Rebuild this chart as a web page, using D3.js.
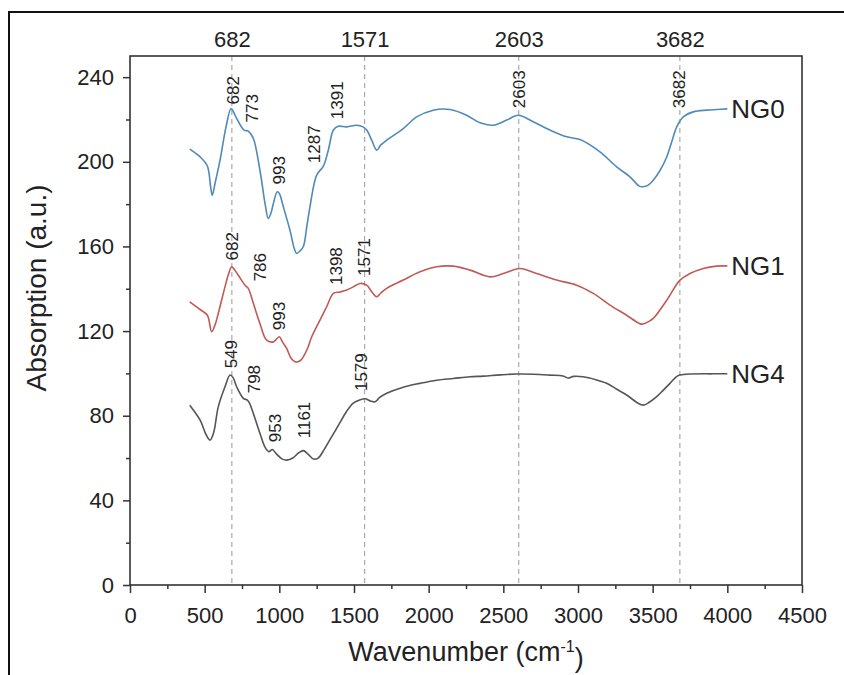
<!DOCTYPE html>
<html lang="en">
<head>
<meta charset="utf-8">
<script src="https://cdn.jsdelivr.net/npm/d3@7"></script>
<style>
  body { margin: 0; background: #fff; }
  text { font-family: "Liberation Sans", Arial, sans-serif; fill: #222; }
  .tick line { stroke: #333; stroke-width: 1.5px; }
  .tick text { font-size: 22px; }
  .guide { stroke: #aaa; stroke-width: 1.2px; stroke-dasharray: 5,4; }
  .peak { font-size: 17px; }
</style>
</head>
<body>
<div id="chart"></div>
<script>
// spectra: [wavenumber, absorption]
var ng0 = [[400,206],[470,202.3],[518,198],[540,188],[551,184.2],[570,190],[603,200.8],[643,216.5],[676,225.2],[690,224],[714,220.5],[763,215],[792,214.5],[826,211],[870,196],[905,180],[926,173.2],[945,176],[960,180.3],[986,185.8],[1000,185],[1027,178.7],[1071,167.7],[1100,159],[1116,156.7],[1140,158],[1161,160],[1185,170],[1205,178.7],[1250,193.7],[1295,198],[1328,205.5],[1362,215],[1395,216.8],[1451,216.5],[1518,217.3],[1560,216.5],[1585,215],[1620,210],[1652,205.5],[1680,208],[1719,210.2],[1830,215.7],[1920,221.2],[2031,224.4],[2143,224.7],[2254,222],[2344,218.4],[2433,217.3],[2522,219.7],[2600,222],[2700,218.9],[2812,215],[2924,211.8],[3013,210.5],[3147,204.7],[3259,197.6],[3348,192.9],[3410,188.5],[3437,188.2],[3470,189],[3504,191.3],[3550,196],[3594,202.3],[3630,210],[3661,216.5],[3705,221.2],[3772,223.6],[3861,224.4],[3928,224.7],[4000,225]];

var ng1 = [[400,133.8],[469,130.2],[518,127.5],[547,119.7],[570,123],[591,128.3],[636,140.9],[660,147],[681,150.4],[700,149],[725,146.4],[770,141.7],[792,140.2],[826,133.1],[870,123.6],[915,115.7],[960,114.9],[1000,117.3],[1020,115],[1049,111.8],[1080,107],[1105,105.5],[1140,106],[1161,107.9],[1190,112],[1217,117.3],[1272,125.2],[1317,131.5],[1362,137.8],[1406,138.5],[1451,139.4],[1495,140.9],[1540,142.5],[1585,141.7],[1620,138.5],[1652,136.2],[1680,138],[1719,140.2],[1830,144.1],[1942,148],[2054,150.4],[2165,150.7],[2277,148.8],[2411,145.6],[2500,147.2],[2611,149.6],[2723,147.2],[2857,144.1],[2991,141.7],[3102,137.8],[3214,132.3],[3326,127.5],[3400,124],[3426,123.3],[3460,124],[3504,126],[3594,134.6],[3683,144.1],[3750,147.2],[3839,149.6],[3928,150.7],[4000,150.8]];

var ng4 = [[400,85],[469,78],[510,71],[536,68.5],[560,72],[591,84.2],[636,93.7],[670,99.2],[690,98],[714,93.7],[759,88.2],[786,87.4],[800,86],[826,81.1],[870,71.7],[905,65],[930,63],[953,64],[980,62],[1020,59.5],[1050,59],[1090,60],[1130,62.5],[1161,63.5],[1190,62],[1230,59.5],[1260,60],[1300,64],[1350,70],[1400,76],[1450,82],[1495,86],[1540,87.5],[1574,88],[1610,87],[1641,86.6],[1670,88.5],[1719,90.6],[1830,93.5],[1942,95.3],[2054,96.8],[2165,97.6],[2277,98.4],[2366,98.7],[2480,99.3],[2589,99.7],[2700,99.6],[2812,99.2],[2900,98.8],[2935,97.8],[2970,98.6],[3035,98.4],[3120,97],[3192,95.3],[3260,92.5],[3326,89.8],[3400,86],[3437,85],[3480,86.5],[3527,89],[3570,92],[3616,95.3],[3660,98.5],[3683,99.2],[3750,99.7],[3900,99.8],[4000,99.8]];

var seriesNames = ["NG0", "NG1", "NG4"];
var seriesColors = ["#4f8ab8", "#c05a55", "#555555"];

// dashed guide positions, also the top tick labels
var guideTicks = [682, 1571, 2603, 3682];

// peak labels: text, and where the label centre sits (wavenumber, absorption)
var peaks0 = [["682",688,233.8],["773",817,225.3],["993",998,196],["1287",1229,208.3],["1391",1386,229.1],["2603",2605,234.3],["3682",3676,234.3]];
var peaks1 = [["682",683,160.1],["786",870,150.2],["993",998,127.1],["1398",1379,150.7],["1571",1567,155]];
var peaks4 = [["549",676,109.1],["798",827,97.3],["953",971,74.2],["1161",1165,78],["1579",1547,100.6]];

var xTicks = d3.range(0, 4501, 500);
var xMinor = d3.range(250, 4500, 500);
var yTicks = d3.range(0, 241, 40);
var yMinor = d3.range(20, 240, 40);

var W = 844, H = 675;
var pL = 130, pR = 802, pT = 56, pB = 585;

var svg = d3.select("#chart").append("svg")
    .attr("width", W).attr("height", H);

// outer figure border (runs off the right and bottom)
svg.append("rect")
    .attr("x", 9).attr("y", 12).attr("width", 900).attr("height", 700)
    .attr("fill", "none").attr("stroke", "#111").attr("stroke-width", 2);

var x = d3.scaleLinear().domain([0, 4500]).range([pL, pR]);
var y = d3.scaleLinear().domain([0, 250]).range([pB, pT]);

// guides
svg.selectAll(".guide").data(guideTicks).enter().append("line")
    .attr("class", "guide")
    .attr("x1", function(d){ return x(d); }).attr("x2", function(d){ return x(d); })
    .attr("y1", pT).attr("y2", pB);

// minor ticks
svg.append("g").attr("transform", "translate(0," + pB + ")")
    .call(d3.axisBottom(x).tickValues(xMinor).tickSize(4).tickFormat(""))
    .call(function(g){ g.select(".domain").remove(); });
svg.append("g").attr("transform", "translate(" + pL + ",0)")
    .call(d3.axisLeft(y).tickValues(yMinor).tickSize(4).tickFormat(""))
    .call(function(g){ g.select(".domain").remove(); });

// major ticks
svg.append("g").attr("transform", "translate(0," + pB + ")")
    .call(d3.axisBottom(x).tickValues(xTicks).tickSize(8).tickPadding(14).tickFormat(d3.format("d")))
    .call(function(g){ g.select(".domain").remove(); });
svg.append("g").attr("transform", "translate(" + pL + ",0)")
    .call(d3.axisLeft(y).tickValues(yTicks).tickSize(7).tickPadding(9).tickFormat(d3.format("d")))
    .call(function(g){ g.select(".domain").remove(); });

// top labels
svg.append("g").attr("transform", "translate(0," + pT + ")")
    .call(d3.axisTop(x).tickValues(guideTicks).tickSize(0).tickPadding(9).tickFormat(d3.format("d")))
    .call(function(g){ g.select(".domain").remove(); });

// frame
svg.append("rect")
    .attr("x", pL).attr("y", pT).attr("width", pR - pL).attr("height", pB - pT)
    .attr("fill", "none").attr("stroke", "#333").attr("stroke-width", 1.6);

var line = d3.line()
    .x(function(d){ return x(d[0]); })
    .y(function(d){ return y(d[1]); })
    .curve(d3.curveCatmullRom.alpha(0.5));

var allSeries = [ng0, ng1, ng4];
var allPeaks = [peaks0, peaks1, peaks4];

allSeries.forEach(function(s, i) {
  svg.append("path")
      .datum(s)
      .attr("fill", "none")
      .attr("stroke", seriesColors[i])
      .attr("stroke-width", 1.6)
      .attr("d", line);

  var last = s[s.length - 1];
  svg.append("text")
      .attr("x", x(last[0]) + 4)
      .attr("y", y(last[1]))
      .attr("dy", "0.36em")
      .style("font-size", "26px")
      .text(seriesNames[i]);

  svg.selectAll(null).data(allPeaks[i]).enter().append("text")
      .attr("class", "peak")
      .attr("text-anchor", "middle")
      .attr("dy", "0.36em")
      .attr("transform", function(d){ return "translate(" + x(d[1]) + "," + y(d[2]) + ") rotate(-90)"; })
      .text(function(d){ return d[0]; });
});

// axis titles
svg.append("text")
    .attr("transform", "translate(36,288) rotate(-90)")
    .attr("text-anchor", "middle")
    .attr("dy", "0.36em")
    .style("font-size", "28px")
    .text("Absorption (a.u.)");

var xt = svg.append("text")
    .attr("x", (pL + pR) / 2)
    .attr("y", 661)
    .attr("text-anchor", "middle")
    .style("font-size", "27px");
xt.append("tspan").text("Wavenumber (cm");
xt.append("tspan").attr("dy", "-0.55em").style("font-size", "16px").text("-1");
xt.append("tspan").attr("dy", "0.55em").text(")");
</script>
</body>
</html>
